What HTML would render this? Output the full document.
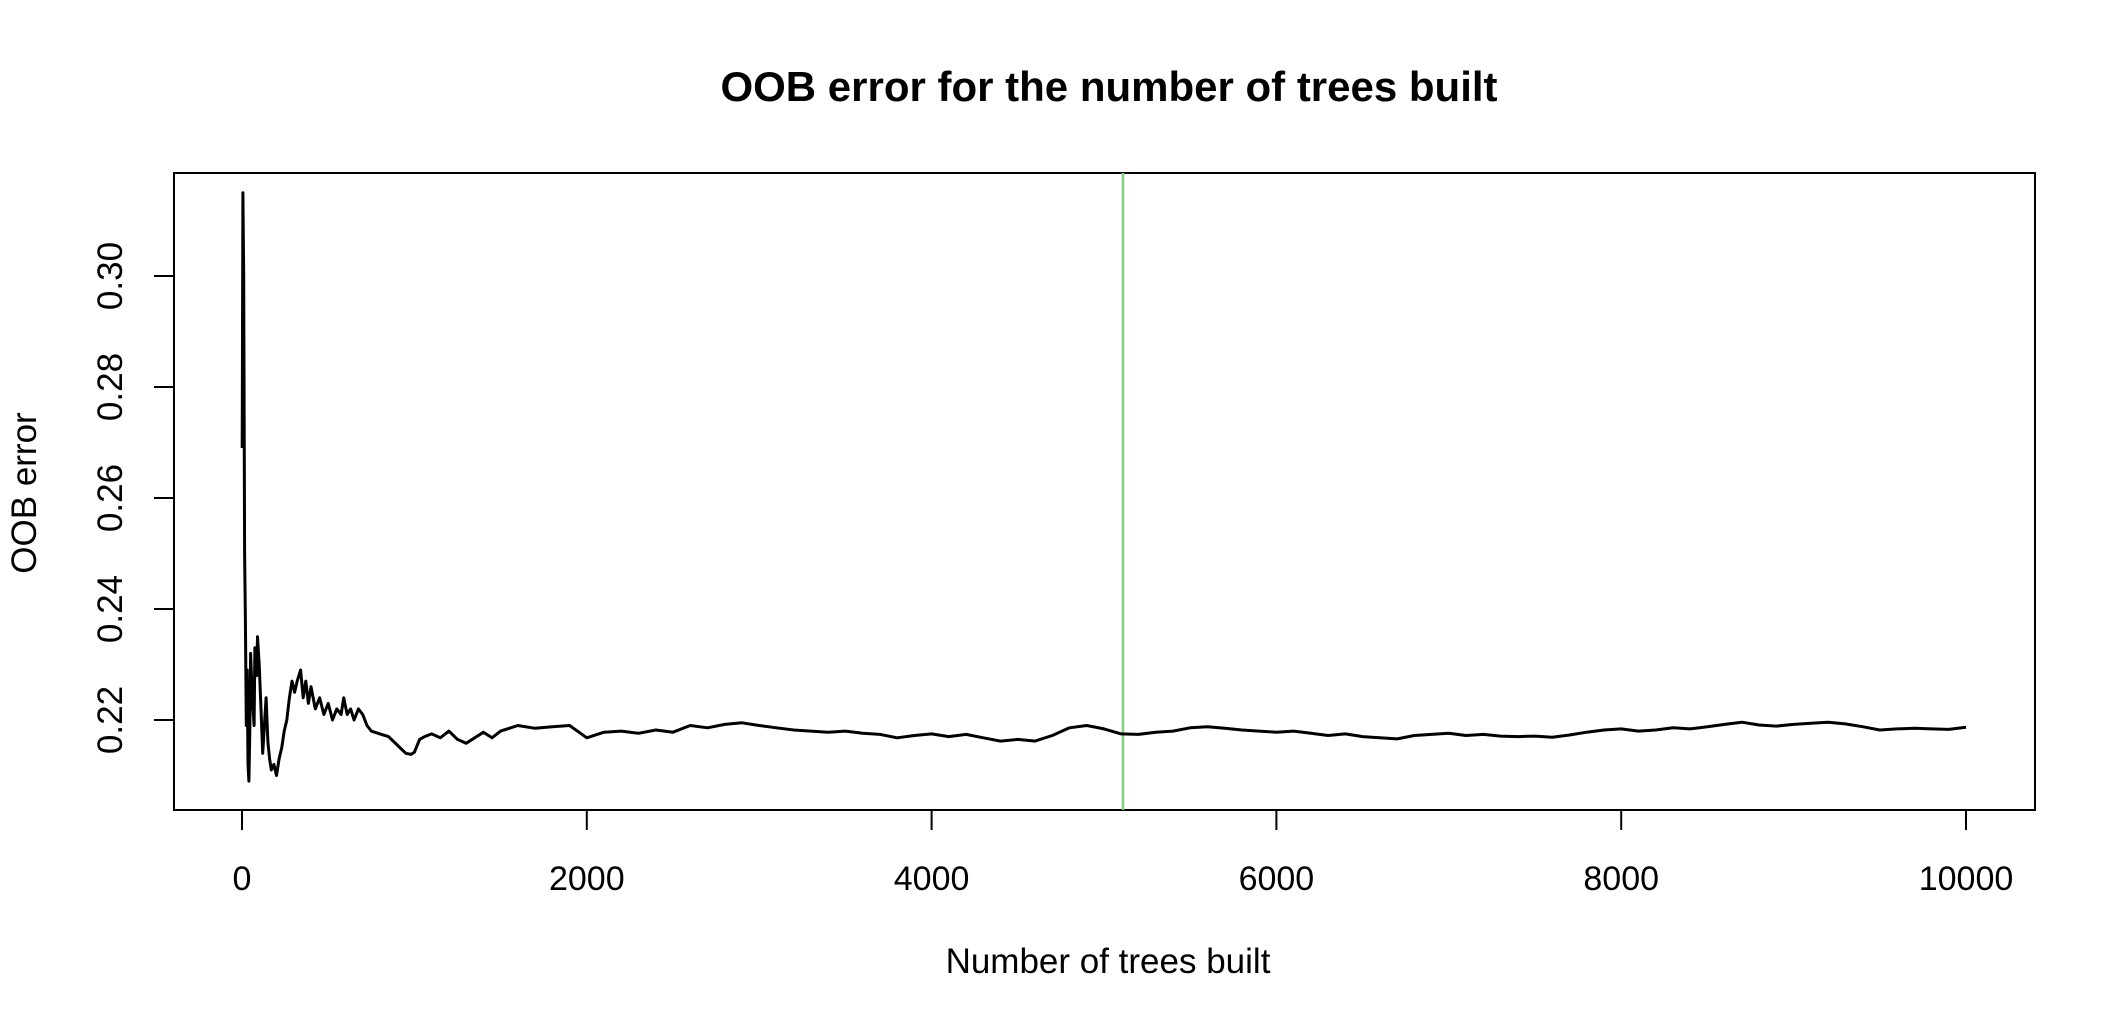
<!DOCTYPE html>
<html><head><meta charset="utf-8"><style>
html,body{margin:0;padding:0;background:#fff;}
svg{display:block;font-family:"Liberation Sans",Arial,sans-serif;}
</style></head><body>
<svg id="chart" width="2123" height="1023">
<text x="1109" y="101" text-anchor="middle" font-size="42" font-weight="bold">OOB error for the number of trees built</text>
<rect x="174" y="173" width="1861" height="637" fill="none" stroke="#000" stroke-width="2"/>
<g id="xaxis"></g>
<g id="yaxis"></g>
<text x="1108" y="973" text-anchor="middle" font-size="35">Number of trees built</text>
<text transform="translate(36,493) rotate(-90)" text-anchor="middle" font-size="35">OOB error</text>
<g id="marks"></g>
</svg>
<script>
const xTicks = [0, 2000, 4000, 6000, 8000, 10000];
const yTicks = [0.22, 0.24, 0.26, 0.28, 0.30];
const yTickLabels = ["0.22", "0.24", "0.26", "0.28", "0.30"];
const bestTrees = 5110;
const treesEarly = [1,5,10,15,20,25,30,35,40,45,50,60,70,75,85,90,100,110,120,130,140,150,160,170,185,200,215,230,245,260,275,290,305,320,340,355,370,385,400,425,450,475,500,525,550,575,590,610,630,650,675,700,725,750,800,850,900,950,980,1000,1030,1060,1100,1150,1200,1250,1300,1350,1400,1450,1500,1550,1600];
const errorEarly = [0.269,0.315,0.30,0.25,0.238,0.219,0.229,0.212,0.209,0.218,0.232,0.224,0.219,0.233,0.228,0.235,0.230,0.222,0.214,0.219,0.224,0.216,0.213,0.211,0.212,0.210,0.213,0.215,0.218,0.220,0.224,0.227,0.225,0.227,0.229,0.224,0.227,0.223,0.226,0.222,0.224,0.221,0.223,0.220,0.222,0.221,0.224,0.221,0.222,0.220,0.222,0.221,0.219,0.218,0.2175,0.217,0.2155,0.214,0.2138,0.2142,0.2165,0.217,0.2175,0.2168,0.218,0.2165,0.2158,0.2168,0.2178,0.2168,0.218,0.2185,0.219];
const treesLate = [1700,1800,1900,2000,2100,2200,2300,2400,2500,2600,2700,2800,2900,3000,3100,3200,3300,3400,3500,3600,3700,3800,3900,4000,4100,4200,4300,4400,4500,4600,4700,4800,4900,5000,5100,5200,5300,5400,5500,5600,5700,5800,5900,6000,6100,6200,6300,6400,6500,6600,6700,6800,6900,7000,7100,7200,7300,7400,7500,7600,7700,7800,7900,8000,8100,8200,8300,8400,8500,8600,8700,8800,8900,9000,9100,9200,9300,9400,9500,9600,9700,9800,9900,10000];
const errorLate = [0.2185,0.2188,0.219,0.2168,0.2178,0.218,0.2176,0.2182,0.2178,0.219,0.2186,0.2192,0.2195,0.219,0.2186,0.2182,0.218,0.2178,0.218,0.2176,0.2174,0.2168,0.2172,0.2175,0.217,0.2174,0.2168,0.2162,0.2165,0.2162,0.2172,0.2186,0.219,0.2184,0.2175,0.2174,0.2178,0.218,0.2186,0.2188,0.2185,0.2182,0.218,0.2178,0.218,0.2176,0.2172,0.2175,0.217,0.2168,0.2166,0.2172,0.2174,0.2176,0.2172,0.2174,0.2171,0.217,0.2171,0.2169,0.2173,0.2178,0.2182,0.2184,0.218,0.2182,0.2186,0.2184,0.2188,0.2192,0.2196,0.2191,0.2189,0.2192,0.2194,0.2196,0.2193,0.2188,0.2182,0.2184,0.2185,0.2184,0.2183,0.2187];
const trees = treesEarly.concat(treesLate);
const oobError = errorEarly.concat(errorLate);

const L=174,R=2035,T=173,B=810;
const X0=0,X1=10000,PX0=242,PX1=1966;
const Y0=0.22,Y1=0.30,PY0=720,PY1=276;
function xs(v){return PX0+(v-X0)/(X1-X0)*(PX1-PX0);}
function ys(v){return PY0+(v-Y0)/(Y1-Y0)*(PY1-PY0);}
const NS="http://www.w3.org/2000/svg";
const xa=document.getElementById('xaxis'), ya=document.getElementById('yaxis'), mk=document.getElementById('marks');
function el(tag,attrs,parent){const e=document.createElementNS(NS,tag);for(const k in attrs)e.setAttribute(k,attrs[k]);parent.appendChild(e);return e;}
xTicks.forEach(t=>{
  const tk=el('line',{x1:xs(t),x2:xs(t),y1:B,y2:B+20,stroke:'#000','stroke-width':2},xa);
  
  
  const tx=el('text',{x:xs(t),y:890,'text-anchor':'middle','font-size':34},xa);
  tx.textContent=String(t);
  
  
});
yTicks.forEach((t,i)=>{
  const tk=el('line',{x1:L-20,x2:L,y1:ys(t),y2:ys(t),stroke:'#000','stroke-width':2},ya);
  
  
  const tx=el('text',{transform:`translate(122,${ys(t)}) rotate(-90)`,'text-anchor':'middle','font-size':35},ya);
  tx.textContent=yTickLabels[i];
  
  
});
const vl=el('line',{x1:xs(bestTrees),x2:xs(bestTrees),y1:T,y2:B,stroke:'#7fcf7f','stroke-width':2.5},mk);


const n=Math.min(trees.length,oobError.length);
let d='';
for(let i=0;i<n;i++){d+=(i?'L':'M')+xs(trees[i]).toFixed(1)+','+ys(oobError[i]).toFixed(1)+' ';}
const p=el('path',{d:d,fill:'none',stroke:'#000','stroke-width':3,'stroke-linejoin':'round'},mk);


</script>
</body></html>
